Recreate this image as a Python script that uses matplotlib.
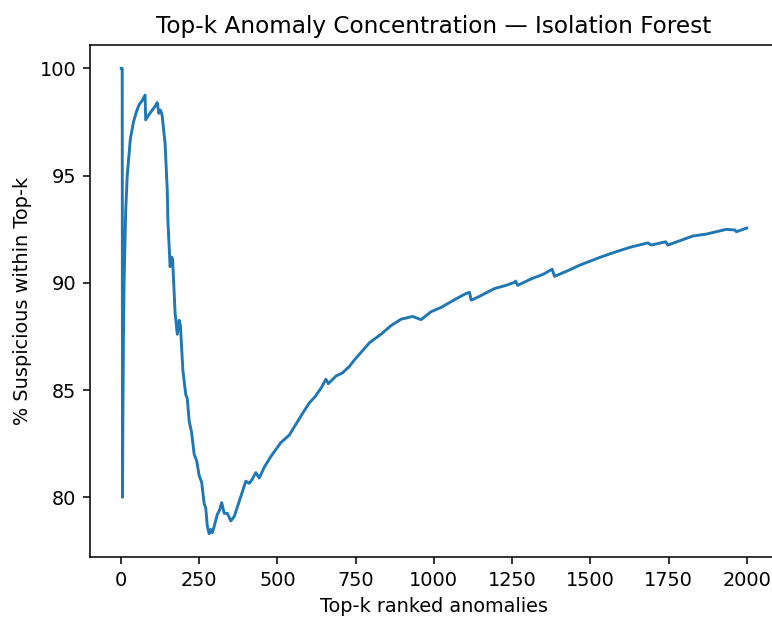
import matplotlib
matplotlib.use("Agg")
import matplotlib.pyplot as plt

# values (k, % suspicious within top-k)
top_k = [1, 2, 3, 4, 5, 6, 8, 10, 15, 20, 30, 40, 50, 58, 68, 77,
         79, 90, 100, 110, 116, 121, 126, 130, 132, 141, 148, 150, 154,
         157, 162, 165, 173, 180, 186, 190, 198, 207, 212, 218, 226, 234,
         242, 250, 258, 266, 271, 276, 282, 287, 292, 298, 308, 315, 322,
         330, 340, 351, 362, 380, 399, 410, 418, 431, 442, 458, 479, 511,
         538, 559, 580, 602, 621, 640, 655, 663, 687, 708, 730, 746,
         794, 831, 863, 895, 932, 959, 991, 1023, 1071, 1103, 1114,
         1119, 1122, 1150, 1194, 1231, 1258, 1261, 1268, 1311, 1350,
         1378, 1386, 1434, 1466, 1498, 1530, 1567, 1626, 1684, 1695,
         1741, 1748, 1790, 1828, 1871, 1935, 1962, 1967, 2000]
pct_suspicious = [100.0, 100.0, 100.0, 100.0, 80.0, 83.3, 87.5, 90.0,
                  93.3, 95.0, 96.7, 97.5, 98.0, 98.3, 98.5, 98.75,
                  97.6, 97.85, 98.05, 98.25, 98.4, 97.9, 98.05, 97.9,
                  97.75, 96.5, 94.3, 92.9, 91.7, 90.75, 91.2, 91.1,
                  88.6, 87.6, 88.25, 88.0, 85.9, 84.8, 84.6, 83.55, 83.0,
                  82.0, 81.7, 81.0, 80.7, 79.7, 79.5, 78.65, 78.3, 78.5,
                  78.35, 78.65, 79.2, 79.4, 79.75, 79.25, 79.25, 78.9,
                  79.1, 79.9, 80.75, 80.65, 80.8, 81.15, 80.9, 81.4, 81.9,
                  82.55, 82.9, 83.4, 83.9, 84.4, 84.7, 85.1, 85.5, 85.3,
                  85.65, 85.8, 86.1, 86.4, 87.2, 87.6, 88.0, 88.3, 88.43,
                  88.28, 88.65, 88.85, 89.25, 89.5, 89.55, 89.2, 89.2,
                  89.4, 89.73, 89.88, 90.02, 90.08, 89.88, 90.18, 90.4,
                  90.63, 90.3, 90.6, 90.82, 91.0, 91.18, 91.37, 91.65,
                  91.86, 91.76, 91.91, 91.76, 91.98, 92.18, 92.27, 92.49,
                  92.46, 92.38, 92.55]

# the reference looks like a default matplotlib figure scaled up ~1.39x
s = 1.39
plt.rcParams.update({
    "font.size": 10 * s,
    "axes.linewidth": 0.8 * s,
    "xtick.major.size": 3.5 * s,
    "ytick.major.size": 3.5 * s,
    "xtick.major.width": 0.8 * s,
    "ytick.major.width": 0.8 * s,
    "xtick.major.pad": 3.5 * s,
    "ytick.major.pad": 3.5 * s,
    "axes.titlepad": 6 * s,
    "axes.labelpad": 4 * s,
})

fig = plt.figure(figsize=(7.72, 6.17), dpi=100)
ax = fig.add_axes([90 / 772, 60 / 617, 688 / 772, 512 / 617])
ax.plot(top_k, pct_suspicious, linewidth=1.5 * s)
ax.set_title("Top-k Anomaly Concentration \u2014 Isolation Forest")
ax.set_xlabel("Top-k ranked anomalies")
ax.set_ylabel("% Suspicious within Top-k")

fig.savefig("out.png", dpi=100)
